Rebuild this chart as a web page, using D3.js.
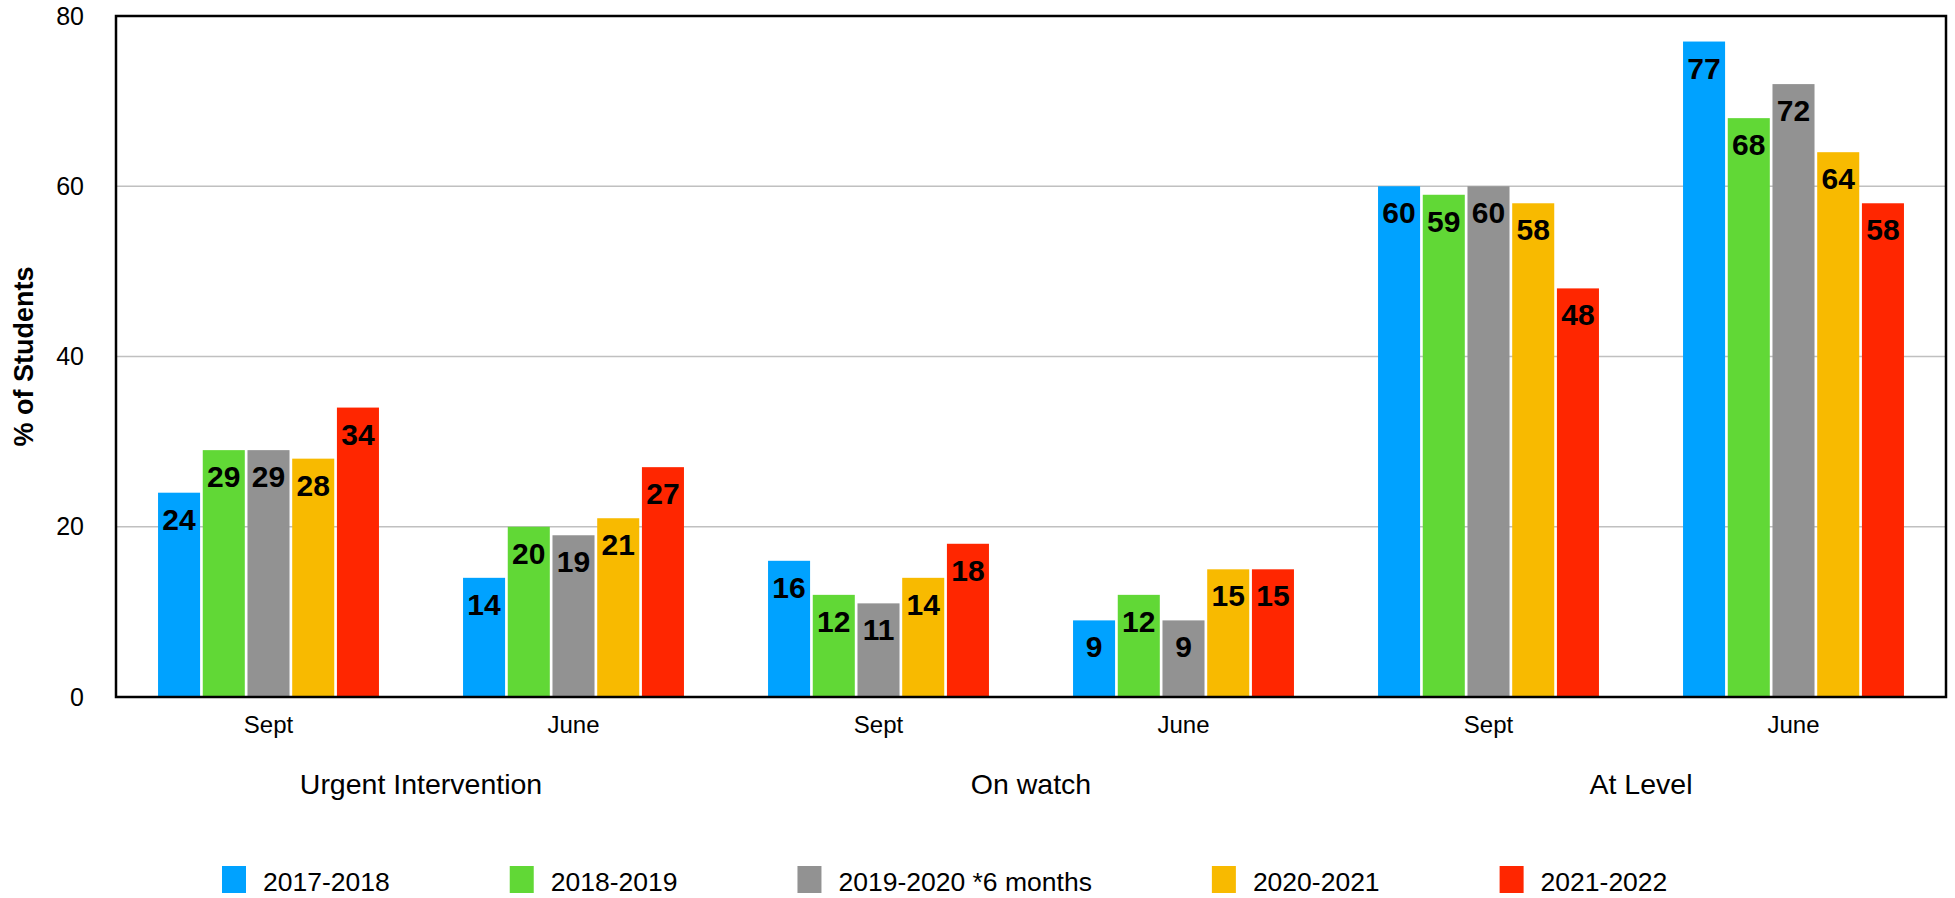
<!DOCTYPE html>
<html>
<head>
<meta charset="utf-8">
<title>% of Students</title>
<script src="https://cdn.jsdelivr.net/npm/d3@7"></script>
<style>
  body { margin: 0; background: #fff; }
  text { font-family: "Liberation Sans", Arial, Helvetica, sans-serif; fill: #000; }
</style>
</head>
<body>
<div id="chart"></div>
<script>
// data
var groups = ["Urgent Intervention", "On watch", "At Level"];
var periods = ["Sept", "June"];
var series = ["2017-2018", "2018-2019", "2019-2020 *6 months", "2020-2021", "2021-2022"];
var colors = ["#00a2ff", "#61d836", "#929292", "#f8ba00", "#ff2600"];

var v2017 = [24, 14, 16, 9, 60, 77];
var v2018 = [29, 20, 12, 12, 59, 68];
var v2019 = [29, 19, 11, 9, 60, 72];
var v2020 = [28, 21, 14, 15, 58, 64];
var v2021 = [34, 27, 18, 15, 48, 58];
var yTicks = [0, 20, 40, 60, 80];

var values = [v2017, v2018, v2019, v2020, v2021];

var width = 1955, height = 898;
var plotLeft = 116, plotRight = 1946, plotTop = 16, plotBottom = 697;

// one slot per group/period pair
var slots = [];
groups.forEach(function(g, gi) {
  periods.forEach(function(p, pi) {
    slots.push({ group: g, period: p, index: gi * periods.length + pi });
  });
});

var svg = d3.select("#chart").append("svg")
  .attr("width", width)
  .attr("height", height);

var x0 = d3.scaleBand()
  .domain(slots.map(function(d) { return d.index; }))
  .range([plotLeft, plotRight]);

var x1 = d3.scaleBand()
  .domain(series)
  .range([0, x0.bandwidth()])
  .paddingInner(0.06)
  .paddingOuter(0.94);

var xg = d3.scaleBand()
  .domain(groups)
  .range([plotLeft, plotRight]);

var y = d3.scaleLinear()
  .domain([0, 80])
  .range([plotBottom, plotTop]);

// grid lines
svg.append("g")
  .selectAll("line")
  .data(yTicks.slice(1, -1))
  .enter()
  .append("line")
    .attr("x1", plotLeft)
    .attr("x2", plotRight)
    .attr("y1", function(d) { return y(d); })
    .attr("y2", function(d) { return y(d); })
    .attr("stroke", "#c0c0c0")
    .attr("stroke-width", 1.5);

// y axis labels
var yAxis = svg.append("g")
  .attr("transform", "translate(" + plotLeft + ",0)")
  .call(d3.axisLeft(y).tickValues(yTicks).tickSize(0).tickPadding(32));
yAxis.select(".domain").remove();
yAxis.selectAll("text")
  .style("font-size", "25px")
  .style("font-family", "'Liberation Sans', Arial, sans-serif")
  .attr("fill", "#000");

svg.append("text")
  .attr("transform", "translate(33," + ((plotTop + plotBottom) / 2) + ") rotate(-90)")
  .attr("text-anchor", "middle")
  .style("font-size", "27px")
  .style("font-weight", "bold")
  .text("% of Students");

// bars
var seriesG = svg.append("g")
  .selectAll("g")
  .data(series)
  .enter()
  .append("g")
    .attr("fill", function(d, i) { return colors[i]; });

function rows(s, si) {
  return slots.map(function(slot) { return { s: s, v: values[si][slot.index], slot: slot.index }; });
}

seriesG.selectAll("rect")
  .data(rows)
  .enter()
  .append("rect")
    .attr("x", function(d) { return x0(d.slot) + x1(d.s); })
    .attr("width", x1.bandwidth())
    .attr("y", function(d) { return y(d.v); })
    .attr("height", function(d) { return y(0) - y(d.v); });

seriesG.selectAll("text")
  .data(rows)
  .enter()
  .append("text")
    .attr("x", function(d) { return x0(d.slot) + x1(d.s) + x1.bandwidth() / 2; })
    .attr("y", function(d) { return y(d.v) + 37; })
    .attr("text-anchor", "middle")
    .style("font-size", "30px")
    .style("font-weight", "bold")
    .style("fill", "#000")
    .text(function(d) { return d.v; });

// frame
svg.append("rect")
  .attr("x", plotLeft)
  .attr("y", plotTop)
  .attr("width", plotRight - plotLeft)
  .attr("height", plotBottom - plotTop)
  .attr("fill", "none")
  .attr("stroke", "#000")
  .attr("stroke-width", 2.5);

// period labels
svg.append("g")
  .selectAll("text")
  .data(slots)
  .enter()
  .append("text")
    .attr("x", function(d) { return x0(d.index) + x0.bandwidth() / 2; })
    .attr("y", 733)
    .attr("text-anchor", "middle")
    .style("font-size", "24px")
    .text(function(d) { return d.period; });

// group labels
svg.append("g")
  .selectAll("text")
  .data(groups)
  .enter()
  .append("text")
    .attr("x", function(d) { return xg(d) + xg.bandwidth() / 2; })
    .attr("y", 794)
    .attr("text-anchor", "middle")
    .style("font-size", "28.5px")
    .text(function(d) { return d; });

// legend
var legend = svg.append("g");
var lx = 222;
series.forEach(function(s, i) {
  legend.append("rect")
    .attr("x", lx)
    .attr("y", 866)
    .attr("width", 24)
    .attr("height", 27)
    .attr("fill", colors[i]);
  var t = legend.append("text")
    .attr("x", lx + 41)
    .attr("y", 891)
    .style("font-size", "26.5px")
    .text(s);
  lx += 41 + t.node().getComputedTextLength() + 120;
});
</script>
</body>
</html>
